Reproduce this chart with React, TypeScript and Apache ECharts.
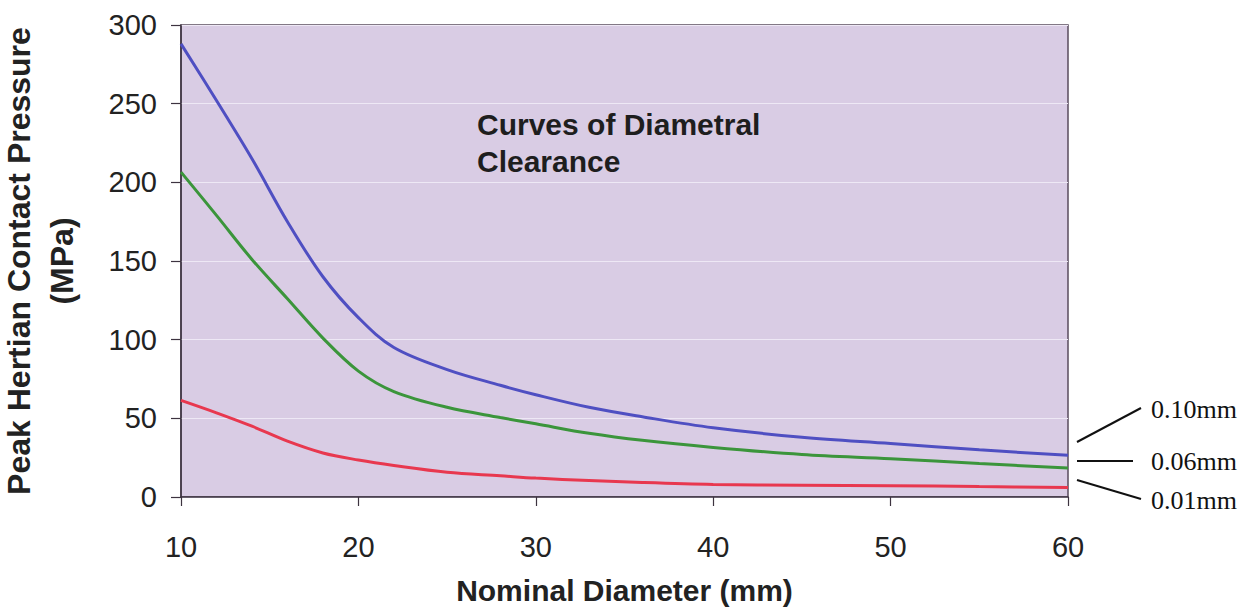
import React, { useEffect, useRef } from "react";
import * as echarts from "echarts";

// Nominal diameter (mm)
const diameters = [10, 12, 14, 16, 18, 20, 22, 25, 28, 30, 33, 36, 40, 45, 50, 55, 60];
// Peak Hertian contact pressure (MPa) per diametral clearance
const clearance010 = [288, 252, 215, 175, 140, 114, 95, 81, 71, 65, 57, 51, 44, 38, 34, 30, 26.5];
const clearance006 = [206.5, 179, 151, 126, 101, 80, 67, 57, 50.5, 46.5, 40.5, 36, 31.5, 27, 24.3, 21.3, 18.4];
const clearance001 = [61.4, 53.5, 45, 35.5, 28, 23.5, 20, 15.7, 13.5, 12, 10.5, 9.2, 8, 7.5, 7.2, 6.6, 6];

const seriesNames = ["0.10mm", "0.06mm", "0.01mm"];
const seriesColors = ["#4f4fc2", "#3b953b", "#e8384f"];
const annotation = "Curves of Diametral\nClearance";
const xTitle = "Nominal Diameter (mm)";
const yTitle = "Peak Hertian Contact Pressure\n(MPa)";

export default function App() {
  const ref = useRef<HTMLDivElement>(null);
  useEffect(() => {
    if (!ref.current) return;
    const chart = echarts.init(ref.current, undefined, { renderer: "svg" });
    const toPairs = (ys: number[]) => diameters.map((d, i) => [d, ys[i]]);
    const dark = "#3d3340";
    const font = "'Liberation Sans', Arial, sans-serif";
    chart.setOption({
      animation: false,
      backgroundColor: "#ffffff",
      grid: {
        left: 181,
        right: 171,
        top: 25,
        bottom: 113,
        containLabel: false,
        outerBoundsMode: "none",
        show: true,
        backgroundColor: "#d9cce4",
        borderColor: "#5a4c5e",
        borderWidth: 1.5,
      },
      xAxis: {
        type: "value",
        min: 10,
        max: 60,
        interval: 10,
        name: xTitle,
        nameLocation: "middle",
        nameGap: 78,
        nameTextStyle: { fontFamily: font, fontSize: 30, fontWeight: "bold", color: "#222" },
        axisLine: { show: true, lineStyle: { color: dark, width: 1.5 } },
        axisTick: { show: true, length: 9, lineStyle: { color: dark, width: 1.2 } },
        axisLabel: { fontFamily: font, fontSize: 29, color: "#222", margin: 35 },
        splitLine: { show: false },
      },
      yAxis: {
        type: "value",
        min: 0,
        max: 300,
        interval: 50,
        name: yTitle,
        nameLocation: "middle",
        nameRotate: 90,
        nameGap: 98,
        nameTextStyle: { fontFamily: font, fontSize: 32, fontWeight: "bold", color: "#222", lineHeight: 43 },
        axisLine: { show: true, lineStyle: { color: dark, width: 1.5 } },
        axisTick: { show: true, length: 10, lineStyle: { color: dark, width: 1.2 } },
        axisLabel: { fontFamily: font, fontSize: 29, color: "#222", margin: 24 },
        splitLine: { show: true, lineStyle: { color: "#eee8f5", width: 1 } },
      },
      series: [clearance010, clearance006, clearance001].map((ys, i) => ({
        type: "line",
        name: seriesNames[i],
        data: toPairs(ys),
        smooth: 0.35,
        showSymbol: false,
        lineStyle: { color: seriesColors[i], width: 3 },
        itemStyle: { color: seriesColors[i] },
        z: 5 - i,
      })),
      graphic: [
        {
          type: "text",
          left: 477,
          top: 106,
          style: {
            text: annotation,
            fontFamily: font,
            fontSize: 30,
            fontWeight: "bold",
            lineHeight: 37,
            fill: "#1e1e1e",
          },
          z: 10,
        },
        { type: "line", shape: { x1: 1077, y1: 442, x2: 1141, y2: 408 }, style: { stroke: "#111", lineWidth: 2 } },
        { type: "line", shape: { x1: 1077, y1: 461, x2: 1133, y2: 461 }, style: { stroke: "#111", lineWidth: 2 } },
        { type: "line", shape: { x1: 1077, y1: 480, x2: 1141, y2: 499 }, style: { stroke: "#111", lineWidth: 2 } },
        {
          type: "text",
          x: 1151,
          y: 409,
          style: { text: seriesNames[0], fontFamily: "'Liberation Serif', 'Times New Roman', serif", fontSize: 26, fill: "#111", verticalAlign: "middle" },
        },
        {
          type: "text",
          x: 1151,
          y: 461,
          style: { text: seriesNames[1], fontFamily: "'Liberation Serif', 'Times New Roman', serif", fontSize: 26, fill: "#111", verticalAlign: "middle" },
        },
        {
          type: "text",
          x: 1151,
          y: 500,
          style: { text: seriesNames[2], fontFamily: "'Liberation Serif', 'Times New Roman', serif", fontSize: 26, fill: "#111", verticalAlign: "middle" },
        },
      ],
    });
    return () => chart.dispose();
  }, []);
  return (
    <div
      ref={ref}
      style={{ position: "fixed", left: 0, top: 0, width: 1239, height: 610 }}
    />
  );
}
